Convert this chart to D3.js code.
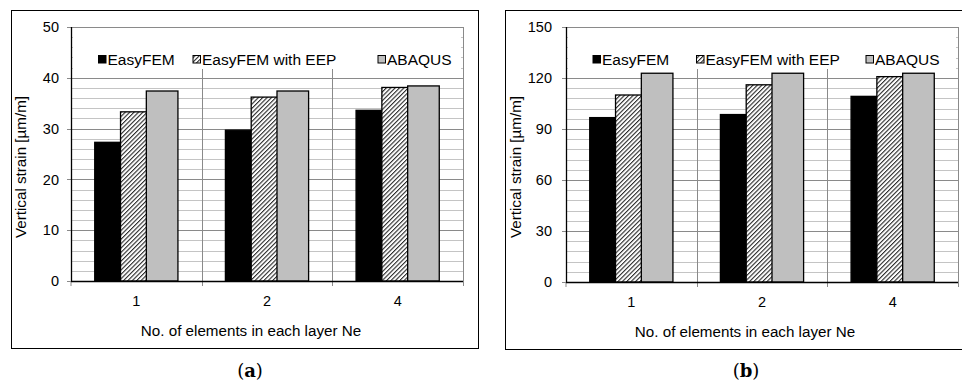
<!DOCTYPE html>
<html><head><meta charset="utf-8">
<script src="https://cdn.jsdelivr.net/npm/d3@7"></script>
<style>body{margin:0;background:#fff}svg{display:block}text{font-family:"Liberation Sans",Arial,sans-serif;fill:#000}</style>
</head><body><svg id="c" width="962" height="380"></svg>
<script>
const categories = ["1", "2", "4"];
const seriesNames = ["EasyFEM", "EasyFEM with EEP", "ABAQUS"];
const aEasyFEM = [27.3, 29.7, 33.6];
const aEEP = [33.3, 36.2, 38.1];
const aABAQUS = [37.4, 37.4, 38.4];
const bEasyFEM = [96.7, 98.5, 109.2];
const bEEP = [110.0, 116.0, 120.8];
const bABAQUS = [122.8, 122.8, 122.8];
const aTicks = [0, 10, 20, 30, 40, 50];
const bTicks = [0, 30, 60, 90, 120, 150];
const xTitle = "No. of elements in each layer Ne";
const yTitle = "Vertical strain [µm/m]";

const svg = d3.select("#c");
const defs = svg.append("defs");
const pat = defs.append("pattern").attr("id","hatch").attr("patternUnits","userSpaceOnUse")
  .attr("width",3.1).attr("height",3.1).attr("patternTransform","rotate(45)");
pat.append("rect").attr("width",3.1).attr("height",3.1).attr("fill","#fff");
pat.append("rect").attr("x",0).attr("width",1.1).attr("height",3.1).attr("fill","#2a2a2a");
const fills = ["#000", "url(#hatch)", "#bfbfbf"];

function chart(o){
  const g = svg.append("g");
  g.append("rect").attr("x",o.box[0]).attr("y",o.box[1]).attr("width",o.box[2]-o.box[0]).attr("height",o.box[3]-o.box[1])
    .attr("fill","none").attr("stroke","#000").attr("stroke-width",1);
  const y = d3.scaleLinear().domain([0, o.ticks[o.ticks.length-1]]).range([o.y0, o.yTop]);
  const x = d3.scaleBand().domain(categories).range([o.left, o.right]).padding(0);
  const major = o.ticks[1]-o.ticks[0];
  const minorStep = major/5;
  const minors = d3.range(minorStep, o.ticks[o.ticks.length-1], minorStep).filter(v => Math.abs(v/major - Math.round(v/major)) > 1e-6);
  g.selectAll(".mn").data(minors).join("line").attr("x1",o.left).attr("x2",o.right)
    .attr("y1",d=>Math.round(y(d))+0.5).attr("y2",d=>Math.round(y(d))+0.5).attr("stroke","#c4c4c4").attr("stroke-width",1);
  g.selectAll(".mj").data(o.ticks.slice(1)).join("line").attr("x1",o.left-4).attr("x2",o.right)
    .attr("y1",d=>Math.round(y(d))+0.5).attr("y2",d=>Math.round(y(d))+0.5).attr("stroke","#8a8a8a").attr("stroke-width",1);
  g.append("rect").attr("x",o.left+2).attr("y",o.yTop+1.5).attr("width",o.right-o.left-4).attr("height",o.legBottom-o.yTop-1.5).attr("fill","#fff");
  const bounds = categories.map(c=>x(c)).concat([o.right]).slice(1);
  g.selectAll(".vg").data(bounds).join("line").attr("x1",d=>Math.round(d)+0.5).attr("x2",d=>Math.round(d)+0.5)
    .attr("y1",d=> d>=o.right-1 ? o.yTop : o.legBottom).attr("y2",o.y0+5).attr("stroke","#8a8a8a");
  g.append("line").attr("x1",o.left).attr("x2",o.left).attr("y1",o.y0).attr("y2",o.y0+5).attr("stroke","#8a8a8a");
  g.append("line").attr("x1",o.left-4).attr("x2",o.left).attr("y1",Math.round(o.y0)+0.5).attr("y2",Math.round(o.y0)+0.5).attr("stroke","#8a8a8a");
  const w = 31.6, step = 25.8;
  o.series.forEach((vals, si) => {
    g.selectAll(".b"+si).data(vals).join("rect")
      .attr("x",(d,i)=> x(categories[i]) + x.bandwidth()/2 - (2*step+w)/2 + si*step)
      .attr("y",d=>y(d)).attr("width",w).attr("height",d=>o.y0-y(d))
      .attr("fill",fills[si]).attr("stroke","#000").attr("stroke-width",1.3);
  });
  g.append("line").attr("x1",o.left+0.5).attr("x2",o.left+0.5).attr("y1",o.yTop).attr("y2",o.y0).attr("stroke","#000").attr("stroke-width",1.3);
  g.append("line").attr("x1",o.left).attr("x2",o.right).attr("y1",Math.round(o.y0)+0.5).attr("y2",Math.round(o.y0)+0.5).attr("stroke","#000").attr("stroke-width",1.3);
  g.selectAll(".yt").data(o.ticks).join("text").attr("x",o.left-o.tickGap).attr("y",d=>y(d)+5.2)
    .attr("text-anchor","end").attr("font-size",14.5).text(d=>d);
  g.selectAll(".xt").data(categories).join("text").attr("x",d=>x(d)+x.bandwidth()/2).attr("y",o.y0+24.5)
    .attr("text-anchor","middle").attr("font-size",14.5).text(d=>d);
  g.append("text").attr("x",o.xTitleX).attr("y",o.y0+54.5).attr("text-anchor","middle").attr("font-size",15.2).text(xTitle);
  g.append("text").attr("transform",`translate(${o.yTitleX},167) rotate(-90)`).attr("text-anchor","middle").attr("font-size",15.2).text(yTitle);
  o.legX.forEach((lx, i) => {
    g.append("rect").attr("x",lx+0.5).attr("y",55.5).attr("width",7.5).attr("height",7.5).attr("fill",fills[i]).attr("stroke","#000").attr("stroke-width",1);
    g.append("text").attr("x",lx+9.5).attr("y",64.5).attr("font-size",15.5).text(seriesNames[i]);
  });
  const pl = g.append("text").attr("x",o.panelX).attr("y",377).attr("text-anchor","middle")
    .style("font-family","'DejaVu Serif','Liberation Serif',serif").attr("font-size",18);
  pl.append("tspan").text("(");
  pl.append("tspan").attr("font-weight","bold").text(o.panel);
  pl.append("tspan").text(")");
}

chart({box:[11.5,10.5,478.5,348.5], left:71, right:463, yTop:27, y0:281, legBottom:69, ticks:aTicks,
  series:[aEasyFEM,aEEP,aABAQUS], tickGap:12, xTitleX:251, yTitleX:26, legX:[98,192.5,377.5], panel:"a", panelX:250});
chart({box:[505.5,10.5,975,349.5], left:566, right:958, yTop:27, y0:282, legBottom:69, ticks:bTicks,
  series:[bEasyFEM,bEEP,bABAQUS], tickGap:14, xTitleX:745, yTitleX:521, legX:[592.5,696,865.5], panel:"b", panelX:746});
</script></body></html>
